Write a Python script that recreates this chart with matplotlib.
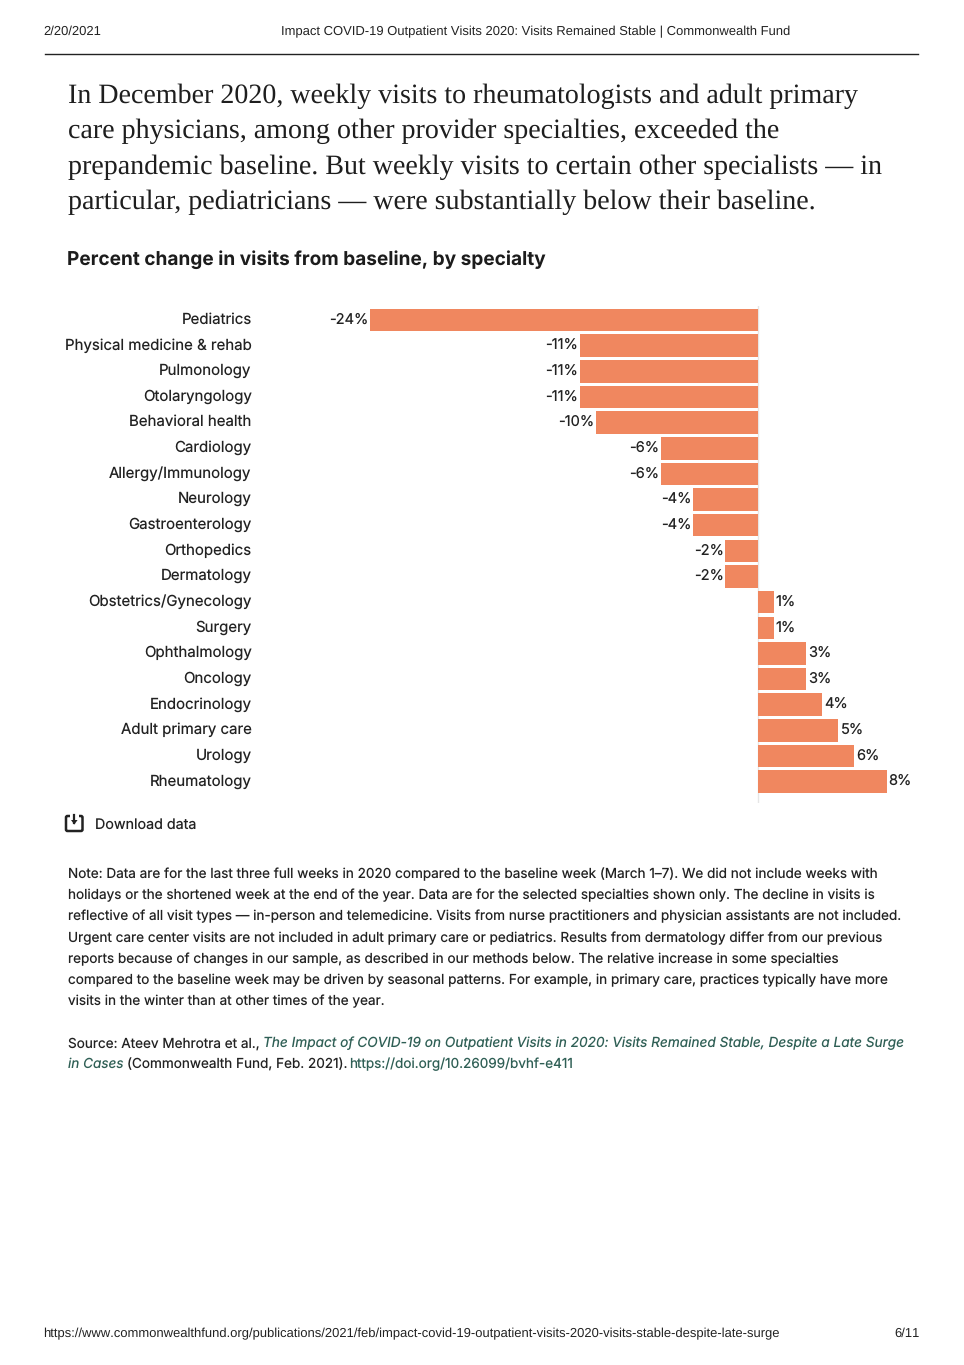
import matplotlib

matplotlib.use("Agg")
import matplotlib.pyplot as plt
from matplotlib.patches import FancyBboxPatch
from matplotlib.transforms import ScaledTranslation

# hinted advances jump between sizes, which makes the long lines hard to fit
plt.rcParams["text.hinting"] = "no_hinting"
plt.rcParams["text.hinting_factor"] = 1

W, H = 964, 1365

specialties = [
    "Pediatrics", "Physical medicine & rehab", "Pulmonology", "Otolaryngology",
    "Behavioral health", "Cardiology", "Allergy/Immunology", "Neurology",
    "Gastroenterology", "Orthopedics", "Dermatology", "Obstetrics/Gynecology",
    "Surgery", "Ophthalmology", "Oncology", "Endocrinology", "Adult primary care",
    "Urology", "Rheumatology",
]
changes = [-24, -11, -11, -11, -10, -6, -6, -4, -4, -2, -2, 1, 1, 3, 3, 4, 5, 6, 8]

title_lines = [
    "In December 2020, weekly visits to rheumatologists and adult primary",
    "care physicians, among other provider specialties, exceeded the",
    "prepandemic baseline. But weekly visits to certain other specialists \u2014 in",
    "particular, pediatricians \u2014 were substantially below their baseline.",
]
note_lines = [
    "Note: Data are for the last three full weeks in 2020 compared to the baseline week (March 1\u20137). We did not include weeks with",
    "holidays or the shortened week at the end of the year. Data are for the selected specialties shown only. The decline in visits is",
    "reflective of all visit types \u2014 in-person and telemedicine. Visits from nurse practitioners and physician assistants are not included.",
    "Urgent care center visits are not included in adult primary care or pediatrics. Results from dermatology differ from our previous",
    "reports because of changes in our sample, as described in our methods below. The relative increase in some specialties",
    "compared to the baseline week may be driven by seasonal patterns. For example, in primary care, practices typically have more",
    "visits in the winter than at other times of the year.",
]

BAR = "#f0875f"
INK = "#222222"
LINK = "#2f5f55"
SANS = "Inter"

fig = plt.figure(figsize=(W / 100, H / 100), dpi=100, facecolor="white")

# page layer in pixel coordinates, everything that is not the chart sits here
page = fig.add_axes([0, 0, 1, 1])
page.set_xlim(0, W)
page.set_ylim(H, 0)
page.axis("off")

header = dict(family="Liberation Sans", fontsize=9.25, color="#222222", va="center")
page.text(43, 31.5, "2/20/2021", **header)
page.text(535.5, 31.5, "Impact COVID-19 Outpatient Visits 2020: Visits Remained Stable | Commonwealth Fund", ha="center", **header)
page.plot([45, 918], [54, 54], color="#222222", lw=1.0)
page.text(43, 1333.5, "https://www.commonwealthfund.org/publications/2021/feb/impact-covid-19-outpatient-visits-2020-visits-stable-despite-late-surge", **header)
page.text(920, 1333.5, "6/11", ha="right", **header)

for line, y in zip(title_lines, [102.5, 138, 173.5, 208.5]):
    page.text(68, y, line, family="Liberation Serif", fontsize=20.3, color="#1e1e1e", va="baseline")

page.text(67, 259.5, "Percent change in visits from baseline, by specialty", family=SANS,
          fontsize=13.73, fontweight="bold", color="#1c1c1c", va="center")

# download icon, bracket with a gap on top and the arrow dropping into it
page.add_patch(FancyBboxPatch((66, 816), 16.5, 15, boxstyle="round,pad=0,rounding_size=1.5",
                              fill=False, ec="#222222", lw=1.8))
page.plot([70, 79], [816, 816], color="white", lw=3, solid_capstyle="butt")
page.plot([74.3, 74.3], [814.5, 823], color="#222222", lw=1.6)
page.fill([71, 77.6, 74.3], [820, 820, 824.5], color="#222222", lw=0)
page.text(95, 824.5, "Download data", family=SANS, fontsize=10.3, color=INK, va="center")

for i, line in enumerate(note_lines):
    page.text(68, 874.2 + i * 21.2, line, family=SANS, fontsize=9.77, color=INK, va="center")

src = dict(family=SANS, fontsize=9.77, va="center")
page.text(68, 1043.5, "Source: Ateev Mehrotra et al.,", color=INK, **src)
page.text(263, 1043.5, "The Impact of COVID-19 on Outpatient Visits in 2020: Visits Remained Stable, Despite a Late Surge",
          color=LINK, style="italic", family=SANS, fontsize=9.83, va="center")
page.text(68, 1064.5, "in Cases", color=LINK, style="italic", **src)
page.text(127, 1064.5, "(Commonwealth Fund, Feb. 2021).", color=INK, **src)
page.text(349.5, 1064.5, "https://doi.org/10.26099/bvhf-e411", color=LINK, **src)

# chart
left, right, top, bottom = 258, 940, 306, 803
ax = fig.add_axes([left / W, 1 - bottom / H, (right - left) / W, (bottom - top) / H])
ax.patch.set_alpha(0)
pos = list(range(len(changes)))
ax.barh(pos, changes, height=0.88, color=BAR, zorder=2)
ax.axvline(0, color="#e6e6e6", lw=1, zorder=1)
ax.set_xlim((left - 757.5) / 16.13, (right - 757.5) / 16.13)
ax.set_ylim((bottom - 320) / 25.65, (top - 320) / 25.65)
ax.set_yticks(pos, specialties, family=SANS, fontsize=10.8, color=INK)
ax.set_xticks([])
ax.tick_params(axis="y", length=0, pad=4.6)
up = ScaledTranslation(0, 2 / 100, fig.dpi_scale_trans)
for lab in ax.get_yticklabels():
    lab.set_transform(lab.get_transform() + up)
for side in ax.spines.values():
    side.set_visible(False)
for p, v in zip(pos, changes):
    ax.annotate(f"{v}%", (v, p), xytext=(-1.2 if v < 0 else 1.5, 0.3), textcoords="offset points",
                ha="right" if v < 0 else "left", va="center", family=SANS, fontsize=10.5, color=INK)

fig.savefig("out.png", dpi=100)
